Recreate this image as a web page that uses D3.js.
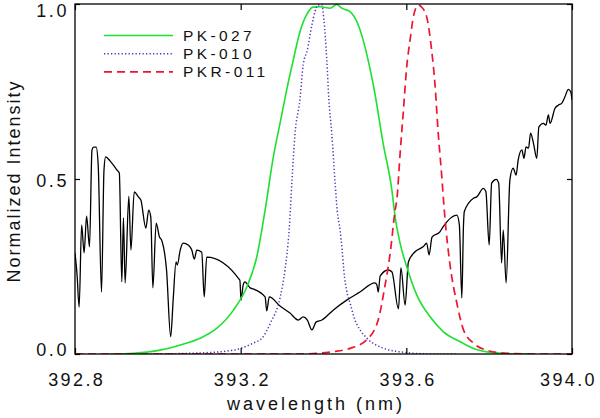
<!DOCTYPE html>
<html>
<head>
<meta charset="utf-8">
<script src="https://cdn.jsdelivr.net/npm/d3@7"></script>
<style>
  body { margin: 0; background: #fff; }
  svg text { font-family: "Liberation Sans", Arial, sans-serif; fill: #111; }
</style>
</head>
<body>
<svg id="svg" width="600" height="418"></svg>
<script>
// Ca II K spectrum (black)
const specWl = [392.800, 392.805, 392.810, 392.816, 392.822, 392.828, 392.835, 392.841, 392.845, 392.851,
    392.856, 392.864, 392.870, 392.874, 392.885, 392.901, 392.907, 392.913, 392.917, 392.921,
    392.930, 392.935, 392.943, 392.953, 392.959, 392.971, 392.978, 392.983, 392.988, 392.996,
    393.004, 393.009, 393.021, 393.031, 393.037, 393.044, 393.047, 393.054, 393.061, 393.074,
    393.082, 393.088, 393.094, 393.106, 393.112, 393.118, 393.198, 393.201, 393.206, 393.210,
    393.223, 393.230, 393.259, 393.263, 393.269, 393.295, 393.319, 393.339, 393.351, 393.361,
    393.372, 393.382, 393.396, 393.424, 393.456, 393.488, 393.524, 393.529, 393.532, 393.537,
    393.556, 393.565, 393.581, 393.587, 393.597, 393.605, 393.621, 393.641, 393.649, 393.655,
    393.662, 393.681, 393.689, 393.722, 393.728, 393.734, 393.738, 393.740, 393.762, 393.770,
    393.786, 393.792, 393.800, 393.806, 393.817, 393.823, 393.830, 393.834, 393.841, 393.850,
    393.858, 393.865, 393.870, 393.879, 393.884, 393.889, 393.895, 393.900, 393.907, 393.915,
    393.920, 393.931, 393.937, 393.943, 393.947, 393.959, 393.967, 393.975, 393.983, 393.991,
    393.997, 394.000];
const specI = [0.289, 0.226, 0.134, 0.369, 0.289, 0.394, 0.306, 0.583, 0.591, 0.591,
    0.540, 0.177, 0.526, 0.563, 0.551, 0.526, 0.517, 0.206, 0.389, 0.203,
    0.451, 0.297, 0.463, 0.449, 0.440, 0.360, 0.411, 0.391, 0.189, 0.374,
    0.334, 0.326, 0.240, 0.049, 0.154, 0.263, 0.254, 0.297, 0.317, 0.311,
    0.297, 0.271, 0.297, 0.291, 0.163, 0.277, 0.211, 0.154, 0.197, 0.206,
    0.189, 0.186, 0.163, 0.123, 0.163, 0.137, 0.117, 0.097, 0.106, 0.097,
    0.069, 0.091, 0.097, 0.126, 0.154, 0.177, 0.203, 0.197, 0.177, 0.223,
    0.240, 0.235, 0.129, 0.246, 0.140, 0.263, 0.292, 0.307, 0.317, 0.283,
    0.334, 0.349, 0.364, 0.397, 0.369, 0.160, 0.369, 0.407, 0.445, 0.449,
    0.473, 0.464, 0.311, 0.488, 0.499, 0.488, 0.260, 0.354, 0.203, 0.497,
    0.531, 0.511, 0.554, 0.583, 0.559, 0.592, 0.588, 0.631, 0.602, 0.559,
    0.649, 0.659, 0.654, 0.683, 0.659, 0.702, 0.711, 0.716, 0.735, 0.756,
    0.749, 0.726];

// PK-027 filter (green, solid)
const pk027Wl = [392.885, 392.941, 393.005, 393.054, 393.102, 393.142, 393.183, 393.215, 393.239, 393.259,
    393.279, 393.295, 393.311, 393.327, 393.343, 393.359, 393.375, 393.392, 393.416, 393.432,
    393.444, 393.464, 393.484, 393.504, 393.524, 393.544, 393.565, 393.573, 393.585, 393.601,
    393.625, 393.657, 393.689, 393.730, 393.762, 393.810, 393.874, 393.910];
const pk027I = [0.000, 0.002, 0.011, 0.026, 0.045, 0.073, 0.126, 0.192, 0.278, 0.411,
    0.564, 0.659, 0.754, 0.840, 0.920, 0.969, 0.991, 0.992, 0.988, 0.999,
    0.988, 0.978, 0.940, 0.859, 0.745, 0.602, 0.469, 0.392, 0.316, 0.249,
    0.169, 0.107, 0.064, 0.035, 0.016, 0.004, 0.000, 0.000];

// PK-010 filter (purple, dotted)
const pk010Wl = [392.974, 393.102, 393.182, 393.230, 393.252, 393.273, 393.295, 393.307, 393.317, 393.324,
    393.331, 393.343, 393.351, 393.361, 393.372, 393.387, 393.396, 393.401, 393.408, 393.413,
    393.420, 393.428, 393.433, 393.440, 393.445, 393.449, 393.457, 393.464, 393.476, 393.484,
    393.504, 393.544, 393.601, 393.665, 393.722];
const pk010I = [0.000, 0.003, 0.011, 0.031, 0.046, 0.091, 0.160, 0.240, 0.354, 0.497,
    0.626, 0.726, 0.826, 0.869, 0.940, 0.997, 0.997, 0.954, 0.840, 0.726,
    0.631, 0.489, 0.411, 0.354, 0.297, 0.240, 0.174, 0.146, 0.097, 0.077,
    0.046, 0.017, 0.004, 0.000, 0.000];

// PKR-011 filter (red, dashed)
const pkr011Wl = [392.800, 393.343, 393.424, 393.464, 393.504, 393.532, 393.548, 393.561, 393.573, 393.577,
    393.585, 393.593, 393.601, 393.609, 393.618, 393.629, 393.637, 393.649, 393.661, 393.669,
    393.677, 393.685, 393.691, 393.693, 393.705, 393.722, 393.738, 393.762, 393.794, 393.842,
    393.907, 394.000];
const pkr011I = [0.000, 0.000, 0.007, 0.016, 0.040, 0.097, 0.192, 0.288, 0.411, 0.440,
    0.573, 0.697, 0.821, 0.897, 0.969, 0.997, 0.991, 0.964, 0.869, 0.773,
    0.631, 0.516, 0.421, 0.392, 0.259, 0.145, 0.069, 0.031, 0.011, 0.002,
    0.000, 0.000];

const xTicks = [392.8, 393.2, 393.6, 394.0];
const yTicks = [0.0, 0.5, 1.0];
const legendNames = ['PK-027', 'PK-010', 'PKR-011'];

const svg = d3.select('#svg');
const m = { left: 75, right: 28, top: 4, bottom: 64 };
const W = 600, H = 418;

const x = d3.scaleLinear().domain([392.8, 394.0]).range([m.left, W - m.right]);
const y = d3.scaleLinear().domain([0, 1]).range([H - m.bottom, m.top]);
// labels sit a little inside the frame, like the original
const yLab = d3.scaleLinear().domain([0, 1]).range([349.5, 11]);

const line = d3.line()
    .x(d => x(d[0]))
    .y(d => y(d[1]))
    .curve(d3.curveMonotoneX);

const zip = (a, b) => a.map((v, i) => [v, b[i]]);

const series = [
    { data: zip(specWl, specI),     color: '#000',    width: 1.3, dash: null },
    { data: zip(pk027Wl, pk027I),   color: '#1ee032', width: 1.6, dash: null },
    { data: zip(pk010Wl, pk010I),   color: '#5a32b4', width: 1.5, dash: '1.3,2.2' },
    { data: zip(pkr011Wl, pkr011I), color: '#ee1530', width: 1.7, dash: '8,5' },
];

svg.append('defs').append('clipPath').attr('id', 'clip')
  .append('rect')
    .attr('x', m.left).attr('y', m.top - 1)
    .attr('width', W - m.left - m.right).attr('height', H - m.top - m.bottom + 1);

svg.append('g').attr('clip-path', 'url(#clip)')
  .selectAll('path')
  .data(series).join('path')
    .attr('d', d => line(d.data))
    .attr('fill', 'none')
    .attr('stroke', d => d.color)
    .attr('stroke-width', d => d.width)
    .attr('stroke-dasharray', d => d.dash);

// --- Axes ---
const tickStyle = g => {
    g.select('.domain').remove();
    g.selectAll('line').attr('stroke', '#000').attr('stroke-width', 1.2);
};

svg.append('g')
    .attr('transform', `translate(0,${H - m.bottom})`)
    .call(d3.axisBottom(x).tickValues(xTicks).tickSize(-6).tickFormat(d3.format('.1f')))
    .call(tickStyle)
    .call(g => g.selectAll('text')
        .attr('y', 32).attr('dy', null)
        .attr('dx', (d, i) => i === xTicks.length - 1 ? -4 : 1.2)
        .style('font-size', '18px')
        .style('letter-spacing', '2.4px'));

svg.append('g')
    .attr('transform', `translate(0,${m.top})`)
    .call(d3.axisTop(x).tickValues(xTicks).tickSize(-6).tickFormat(''))
    .call(tickStyle);

svg.append('g')
    .attr('transform', `translate(${m.left},0)`)
    .call(d3.axisLeft(y).tickValues(yTicks).tickSize(-5).tickFormat(''))
    .call(tickStyle);

svg.append('g')
    .attr('transform', `translate(${W - m.right},0)`)
    .call(d3.axisRight(y).tickValues(yTicks).tickSize(-5).tickFormat(''))
    .call(tickStyle);

svg.append('g')
  .selectAll('text')
  .data(yTicks).join('text')
    .attr('x', m.left - 6)
    .attr('y', d => yLab(d))
    .attr('dy', '0.36em')
    .attr('text-anchor', 'end')
    .style('font-size', '18px')
    .style('letter-spacing', '2.6px')
    .text(d3.format('.1f'));

// frame
svg.append('rect')
    .attr('x', m.left).attr('y', m.top)
    .attr('width', W - m.left - m.right)
    .attr('height', H - m.top - m.bottom)
    .attr('fill', 'none')
    .attr('stroke', '#000')
    .attr('stroke-width', 1.3);

// axis titles
svg.append('text')
    .attr('x', 316).attr('y', 410)
    .attr('text-anchor', 'middle')
    .style('font-size', '18px')
    .style('letter-spacing', '3px')
    .text('wavelength (nm)');

svg.append('text')
    .attr('transform', 'translate(20,181) rotate(-90)')
    .attr('text-anchor', 'middle')
    .style('font-size', '18px')
    .style('letter-spacing', '2px')
    .text('Normalized Intensity');

// --- Legend ---
const leg = svg.append('g')
  .selectAll('g')
  .data(series.slice(1)).join('g')
    .attr('transform', (d, i) => `translate(104,${35.5 + i * 18.2})`);

leg.append('line')
    .attr('x1', 0).attr('x2', 69)
    .attr('stroke', d => d.color)
    .attr('stroke-width', d => d.width)
    .attr('stroke-dasharray', d => d.dash);

leg.append('text')
    .attr('x', 79)
    .attr('dy', '0.36em')
    .style('font-size', '15.5px')
    .style('letter-spacing', '3.4px')
    .text((d, i) => legendNames[i]);
</script>
</body>
</html>
